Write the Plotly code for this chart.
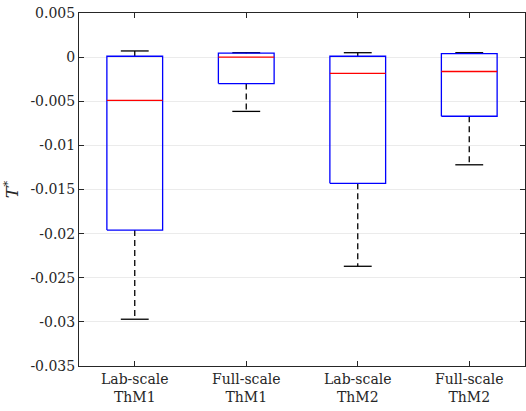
import plotly.graph_objects as go

categories = ["Lab-scale<br>ThM1", "Full-scale<br>ThM1", "Lab-scale<br>ThM2", "Full-scale<br>ThM2"]
lower_whisker = [-0.0297, -0.00615, -0.0237, -0.0122]
q1 = [-0.0196, -0.0030, -0.0143, -0.0067]
median = [-0.0049, 0.0000, -0.00185, -0.00163]
q3 = [0.0001, 0.00045, 0.0001, 0.0004]
upper_whisker = [0.0007, 0.0005, 0.0005, 0.0005]

y_ticks = [0.005, 0, -0.005, -0.01, -0.015, -0.02, -0.025, -0.03, -0.035]
y_ticktext = ["0.005", "0", "-0.005", "-0.01", "-0.015", "-0.02", "-0.025", "-0.03", "-0.035"]

half_w = 0.25
cap_w = 0.125
pos = list(range(1, len(categories) + 1))

bx, by, mx, my, wx, wy, cx, cy = [], [], [], [], [], [], [], []
for i, c in enumerate(pos):
    bx += [c - half_w, c + half_w, c + half_w, c - half_w, c - half_w, None]
    by += [q1[i], q1[i], q3[i], q3[i], q1[i], None]
    mx += [c - half_w, c + half_w, None]
    my += [median[i], median[i], None]
    wx += [c, c, None, c, c, None]
    wy += [q3[i], upper_whisker[i], None, q1[i], lower_whisker[i], None]
    cx += [c - cap_w, c + cap_w, None, c - cap_w, c + cap_w, None]
    cy += [upper_whisker[i], upper_whisker[i], None, lower_whisker[i], lower_whisker[i], None]

fig = go.Figure()
fig.add_trace(go.Scatter(x=wx, y=wy, mode="lines", line=dict(color="black", width=1.3, dash="6px,4px"),
                         hoverinfo="skip", showlegend=False))
fig.add_trace(go.Scatter(x=cx, y=cy, mode="lines", line=dict(color="black", width=1.3),
                         hoverinfo="skip", showlegend=False))
fig.add_trace(go.Scatter(x=bx, y=by, mode="lines", line=dict(color="#0000ff", width=1.3),
                         hoverinfo="skip", showlegend=False))
fig.add_trace(go.Scatter(x=mx, y=my, mode="lines", line=dict(color="#ff0000", width=1.3),
                         hoverinfo="skip", showlegend=False))

axis_color = "#262626"
font_family = "'DejaVu Serif', 'Liberation Serif', serif"

fig.update_layout(
    width=526, height=411,
    margin=dict(l=79, r=1, t=13, b=45),
    paper_bgcolor="white", plot_bgcolor="white",
    font=dict(family=font_family, size=14, color=axis_color),
    xaxis=dict(
        range=[0.5, 4.5], tickvals=pos, ticktext=categories,
        showline=True, mirror="ticks", linecolor=axis_color, linewidth=1,
        ticks="inside", ticklen=5, tickcolor=axis_color, showgrid=False, zeroline=False,
    ),
    yaxis=dict(
        range=[-0.035, 0.005], tickvals=y_ticks, ticktext=y_ticktext,
        showline=True, mirror="ticks", linecolor=axis_color, linewidth=1,
        ticks="inside", ticklen=5, tickcolor=axis_color,
        showgrid=True, gridcolor="#ebebeb", gridwidth=1, zeroline=False,
        title=dict(text="<i>T</i><sup>*</sup>", standoff=10, font=dict(size=17)),
    ),
)

fig.write_html("out.html")
